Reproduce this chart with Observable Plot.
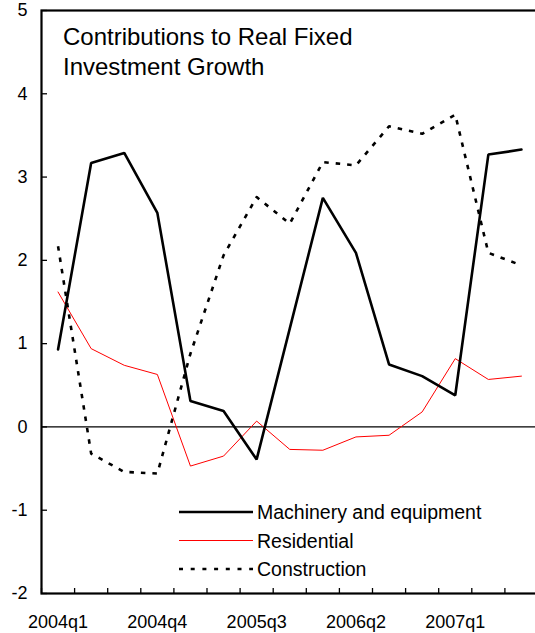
<!DOCTYPE html>
<html>
<head>
<meta charset="utf-8">
<script src="https://cdn.jsdelivr.net/npm/d3@7"></script>
<script src="https://cdn.jsdelivr.net/npm/@observablehq/plot@0.6"></script>
<style>
  html, body { margin: 0; padding: 0; background: #fff; overflow: hidden; }
  #chart { position: relative; width: 535px; height: 633px; overflow: hidden; }
  #chart svg { max-width: none !important; height: 633px !important; }
</style>
</head>
<body>
<div id="chart"></div>
<script>
// ---- data ----
const quarters = ["2004q1","2004q2","2004q3","2004q4","2005q1","2005q2","2005q3","2005q4",
                  "2006q1","2006q2","2006q3","2006q4","2007q1","2007q2","2007q3"];
const machinery    = [0.93, 3.17, 3.29, 2.57, 0.31, 0.19, -0.39, 1.18, 2.75, 2.09, 0.75, 0.61, 0.38, 3.27, 3.33];
const residential  = [1.62, 0.94, 0.74, 0.63, -0.47, -0.35, 0.07, -0.27, -0.28, -0.12, -0.10, 0.18, 0.82, 0.57, 0.61];
const construction = [2.17, -0.32, -0.54, -0.56, 0.88, 2.06, 2.76, 2.44, 3.18, 3.14, 3.61, 3.52, 3.75, 2.09, 1.94];
const seriesNames  = ["Machinery and equipment", "Residential", "Construction"];
const yTicks       = [-2, -1, 0, 1, 2, 3, 4, 5];
const xLabelIdx    = [0, 3, 6, 9, 12];
const titleLines   = ["Contributions to Real Fixed", "Investment Growth"];

// ---- build table ----
const rows = (vals, name) => vals.map((v, i) => ({i, q: quarters[i], v, s: name}));
const dM = rows(machinery, seriesNames[0]);
const dR = rows(residential, seriesNames[1]);
const dC = rows(construction, seriesNames[2]);
const bounds = d3.range(-0.5, quarters.length, 1);

const font = "'Liberation Sans', Arial, Helvetica, sans-serif";

const chart = Plot.plot({
  width: 538,
  height: 633,
  marginLeft: 41,
  marginRight: 0.5,
  marginTop: 10,
  marginBottom: 40,
  style: {fontFamily: font, background: "white", color: "black", maxWidth: "none"},
  x: {type: "linear", domain: [-0.5, quarters.length - 0.5]},
  y: {domain: [-2, 5]},
  marks: [
    Plot.ruleY([0], {stroke: "black", strokeWidth: 1.3}),
    Plot.line(dC, {x: "i", y: "v", stroke: "black", strokeWidth: 2.6, strokeDasharray: "4.5,7", strokeLinecap: "butt"}),
    Plot.line(dR, {x: "i", y: "v", stroke: "#ff0000", strokeWidth: 1}),
    Plot.line(dM, {x: "i", y: "v", stroke: "black", strokeWidth: 2.6, strokeLinejoin: "miter"}),
    Plot.frame({stroke: "black", strokeWidth: 2.2}),
    // inward tick marks
    Plot.ruleX(bounds, {x: d => d, y1: -2, y2: -2, insetTop: -5, stroke: "black", strokeWidth: 1.3}),
    Plot.ruleY(yTicks, {y: d => d, x1: -0.5, x2: -0.5, insetRight: -6, stroke: "black", strokeWidth: 1.3}),
    Plot.axisY({ticks: yTicks, tickSize: 0, tickPadding: 14, fontSize: 18, tickFormat: d => String(d), label: null}),
    Plot.axisX({ticks: xLabelIdx, tickSize: 0, tickPadding: 22, fontSize: 18, tickFormat: i => quarters[i], label: null})
  ]
});

document.getElementById("chart").appendChild(chart);

// ---- title & legend drawn into the svg ----
const svg = d3.select(chart);
const tg = svg.append("g").attr("font-family", font).attr("font-size", 24)
  .attr("fill", "black").attr("text-anchor", "start");
titleLines.forEach((t, k) => {
  tg.append("text").attr("x", 63).attr("y", 45 + k * 30).text(t);
});

const legendStyles = [
  {stroke: "black", width: 2.6, dash: null},
  {stroke: "#ff0000", width: 1, dash: null},
  {stroke: "black", width: 2.6, dash: "4,7.7"}
];
const lg = svg.append("g").attr("font-family", font).attr("font-size", 19.5)
  .attr("fill", "black").attr("text-anchor", "start");
seriesNames.forEach((name, k) => {
  const y = 512 + k * 28.5;
  const st = legendStyles[k];
  const ln = lg.append("line").attr("x1", 179).attr("x2", 253).attr("y1", y).attr("y2", y)
    .attr("stroke", st.stroke).attr("stroke-width", st.width);
  if (st.dash) ln.attr("stroke-dasharray", st.dash);
  lg.append("text").attr("x", 257).attr("y", y).attr("dy", "0.36em").text(name);
});
</script>
</body>
</html>
